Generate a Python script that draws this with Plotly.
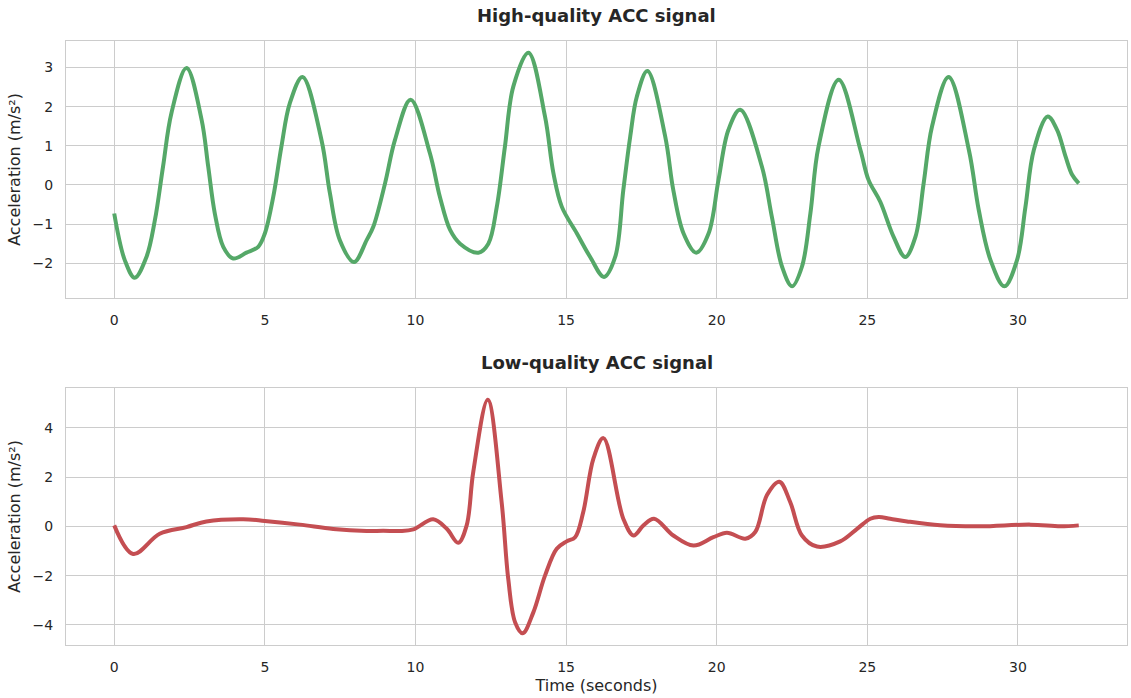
import plotly.graph_objects as go
from plotly.subplots import make_subplots

# High-quality signal (time in s, acceleration in m/s^2)
hq_t = [0.0, 0.35, 0.68, 1.07, 1.35, 1.62, 1.9, 2.4, 2.9, 3.12, 3.34, 3.62, 3.95,
        4.39, 4.78, 5.0, 5.28, 5.55, 5.83, 6.25, 6.88, 7.16, 7.49, 7.96, 8.38, 8.6,
        8.99, 9.32, 9.84, 10.48, 10.81, 11.15, 11.48, 12.09, 12.42, 12.7,
        12.97, 13.25, 13.75, 14.3, 14.58, 14.86, 15.36, 15.8, 16.26, 16.63,
        16.9, 17.13, 17.35, 17.7, 18.29, 18.56, 18.9, 19.32, 19.73, 20.06, 20.39,
        20.78, 21.5, 21.83, 22.17, 22.5, 22.83, 23.11, 23.38, 24.05,
        24.77, 25.04, 25.43, 25.87, 26.26, 26.6, 26.87, 27.15, 27.7, 28.37,
        28.7, 29.09, 29.55, 29.97, 30.25, 30.53, 30.99, 31.3, 31.58, 31.8, 32.02]
hq_y = [-0.73, -1.92, -2.37, -1.84, -0.9, 0.47, 1.84, 2.99, 1.67, 0.47, -0.73,
        -1.58, -1.88, -1.73, -1.58, -1.24, -0.3, 0.98, 2.09, 2.76, 1.15, -0.21, -1.41,
        -1.97, -1.41, -1.07, 0.04, 1.15, 2.18, 0.81, -0.3, -1.15, -1.5, -1.73,
        -1.5, -0.56, 0.98, 2.52, 3.38, 1.75, 0.3, -0.56, -1.24, -1.84, -2.35,
        -1.84, -0.13, 1.24, 2.26, 2.91, 1.24, -0.13, -1.24, -1.73, -1.24, 0.13, 1.41,
        1.92, 0.47, -0.81, -2.09, -2.59, -2.09, -0.73, 0.98, 2.69,
        0.9, 0.13, -0.43, -1.32, -1.84, -1.32, 0.04, 1.5, 2.76, 0.9,
        -0.64, -1.92, -2.59, -1.92, -0.56, 0.9, 1.75, 1.41, 0.73, 0.26, 0.04]

# Low-quality signal
lq_t = [0.0, 0.63, 1.51, 2.4, 3.06, 4.28, 5.0, 6.16, 7.27, 8.38, 8.93, 9.49, 9.93, 10.59,
        11.04, 11.42, 11.7, 11.92, 12.4, 12.86, 13.08, 13.31, 13.56, 13.91,
        14.3, 14.69, 15.02, 15.3, 15.57, 15.91, 16.24, 16.9, 17.24, 17.57, 17.92,
        18.56, 19.23, 19.89, 20.34, 20.95, 21.28, 21.67, 22.08, 22.44, 22.83, 23.33, 24.1,
        24.66, 25.1, 25.38, 25.76, 26.32, 27.42, 28.75, 30.42, 31.41, 32.02]
lq_y = [0.04, -1.12, -0.3, -0.03, 0.2, 0.29, 0.22, 0.07, -0.11, -0.19, -0.18, -0.19, -0.12, 0.29,
        -0.1, -0.67, 0.04, 2.22, 5.14, 0.99, -2.13, -3.9, -4.34, -3.5,
        -2.0, -0.91, -0.61, -0.44, 0.58, 2.76, 3.58, 0.31, -0.37, 0.04, 0.31,
        -0.37, -0.78, -0.44, -0.26, -0.5, -0.23, 1.27, 1.81, 0.99, -0.37, -0.82, -0.61,
        -0.1, 0.31, 0.38, 0.31, 0.2, 0.04, 0.0, 0.07, 0.0, 0.04]

titles = ["High-quality ACC signal", "Low-quality ACC signal"]
x_ticks = [0, 5, 10, 15, 20, 25, 30]
top_yticks = [-2, -1, 0, 1, 2, 3]
bot_yticks = [-4, -2, 0, 2, 4]

FONT = "DejaVu Sans"
TXT = "#262626"
GRID = "#cccccc"

fig = make_subplots(rows=2, cols=1, vertical_spacing=0.149)
fig.add_trace(go.Scatter(x=hq_t, y=hq_y, mode="lines",
                         line=dict(color="#55a868", width=4, shape="spline", smoothing=1.0),
                         showlegend=False), row=1, col=1)
fig.add_trace(go.Scatter(x=lq_t, y=lq_y, mode="lines",
                         line=dict(color="#c44e52", width=4, shape="spline", smoothing=1.0),
                         showlegend=False), row=2, col=1)

def pad_range(vals, frac=0.05):
    lo, hi = min(vals), max(vals)
    s = hi - lo
    return [lo - frac * s, hi + frac * s]

xr = pad_range(hq_t)
axis_common = dict(showline=True, mirror=True, linecolor=GRID, linewidth=1.25,
                   showgrid=True, gridcolor=GRID, gridwidth=1.1, zeroline=False,
                   ticks="", tickfont=dict(family=FONT, size=14, color=TXT),
                   ticklabelstandoff=9)

ytitle_font = dict(family=FONT, size=16, color=TXT)
fig.update_xaxes(range=xr, tickvals=x_ticks, **axis_common)
fig.update_yaxes(**axis_common)
fig.update_yaxes(range=pad_range(hq_y), tickvals=top_yticks, row=1, col=1,
                 title=dict(text="Acceleration (m/s²)", font=ytitle_font, standoff=7))
fig.update_yaxes(range=pad_range(lq_y), tickvals=bot_yticks, row=2, col=1,
                 title=dict(text="Acceleration (m/s²)", font=ytitle_font, standoff=7))
fig.update_xaxes(row=2, col=1,
                 title=dict(text="Time (seconds)", font=ytitle_font, standoff=5))

fig.update_layout(
    width=1131, height=698,
    margin=dict(l=66, r=4, t=41, b=53),
    plot_bgcolor="white", paper_bgcolor="white",
    font=dict(family=FONT, color=TXT),
)
fig.update_layout(yaxis=dict(domain=[0.5745, 1.0]), yaxis2=dict(domain=[0.0, 0.4255]))

fig.add_annotation(text="<b>%s</b>" % titles[0], x=0.5, xref="paper", y=1.0, yref="paper",
                   yanchor="bottom", yshift=13, showarrow=False,
                   font=dict(family=FONT, size=18, color=TXT))
fig.add_annotation(text="<b>%s</b>" % titles[1], x=0.5, xref="paper", y=0.4255, yref="paper",
                   yanchor="bottom", yshift=13, showarrow=False,
                   font=dict(family=FONT, size=18, color=TXT))

fig.write_html("out.html")
